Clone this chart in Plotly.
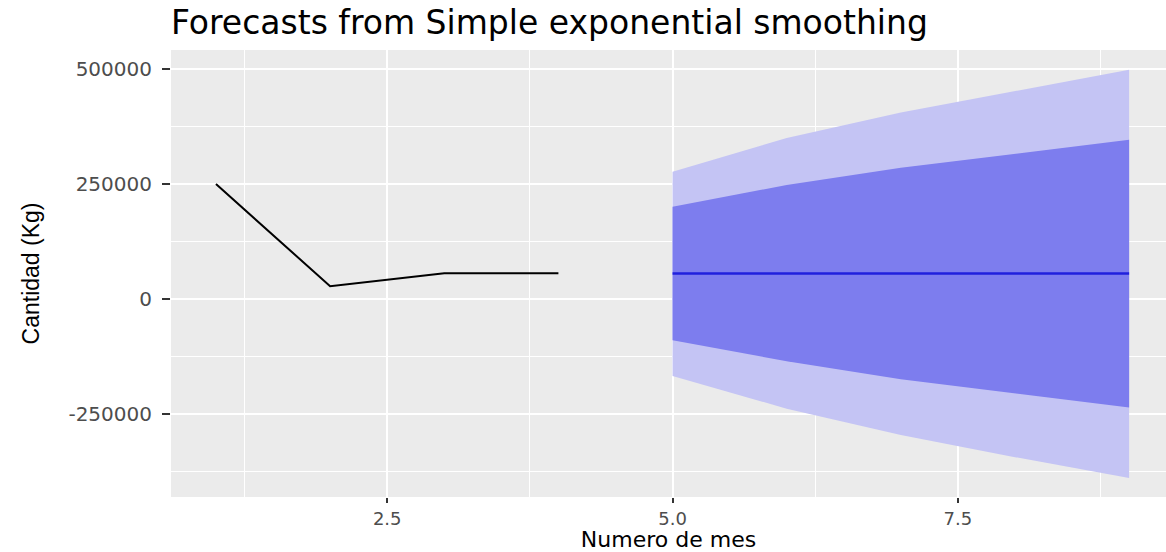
import plotly.graph_objects as go

# Observed series (month number vs quantity in kg)
hist_x = [1, 2, 3, 4]
hist_y = [250000, 28000, 56000, 56000]

# Forecast horizon, point forecast and prediction intervals
fc_x = [5, 6, 7, 8, 9]
fc_mean = [55800, 55800, 55800, 55800, 55800]
lo80 = [-89100, -134800, -174000, -204000, -235000]
hi80 = [200700, 247800, 285000, 315000, 346000]
lo95 = [-166700, -237600, -295000, -343000, -388000]
hi95 = [276700, 350000, 405000, 452000, 498000]

x_ticks = [2.5, 5.0, 7.5]
x_tick_text = ["2.5", "5.0", "7.5"]
y_ticks = [-250000, 0, 250000, 500000]
y_tick_text = ["-250000", "0", "250000", "500000"]

LIGHT = "#c4c4f4"
DARK = "#7d7dee"
LINE_BLUE = "#2020dd"

fig = go.Figure()

# 95% interval band
fig.add_trace(go.Scatter(
    x=fc_x + fc_x[::-1], y=hi95 + lo95[::-1],
    fill="toself", fillcolor=LIGHT, mode="lines",
    line=dict(width=0, color=LIGHT), hoverinfo="skip", showlegend=False))

# 80% interval band
fig.add_trace(go.Scatter(
    x=fc_x + fc_x[::-1], y=hi80 + lo80[::-1],
    fill="toself", fillcolor=DARK, mode="lines",
    line=dict(width=0, color=DARK), hoverinfo="skip", showlegend=False))

# Point forecast
fig.add_trace(go.Scatter(
    x=fc_x, y=fc_mean, mode="lines",
    line=dict(color=LINE_BLUE, width=2.5), showlegend=False))

# Observed data
fig.add_trace(go.Scatter(
    x=hist_x, y=hist_y, mode="lines",
    line=dict(color="black", width=2), showlegend=False))

fig.update_layout(
    width=1166, height=552,
    margin=dict(l=171, r=0, t=50, b=55),
    paper_bgcolor="white",
    plot_bgcolor="#ebebeb",
    showlegend=False,
    title=dict(
        text="Forecasts from Simple exponential smoothing",
        x=0, xanchor="left", xref="paper",
        y=1 - 22 / 552, yanchor="middle", yref="container",
        font=dict(family="DejaVu Sans", size=33, color="black")),
)

fig.update_xaxes(
    range=[0.606, 9.323],
    tickvals=x_ticks, ticktext=x_tick_text,
    ticks="outside", ticklen=5, tickwidth=1.5, tickcolor="#333333",
    tickfont=dict(family="DejaVu Sans", size=18, color="#4d4d4d"),
    showgrid=True, gridcolor="white", gridwidth=2,
    minor=dict(tickvals=[1.25, 3.75, 6.25, 8.75], showgrid=True,
               gridcolor="white", gridwidth=1.2),
    zeroline=False, showline=False,
    title=dict(text="Numero de mes", standoff=9,
               font=dict(family="DejaVu Sans", size=22, color="black")),
)

fig.update_yaxes(
    range=[-429400, 540800],
    tickvals=y_ticks, ticktext=y_tick_text,
    ticks="outside", ticklen=8, tickwidth=1.5, tickcolor="#333333",
    ticklabelstandoff=6,
    tickfont=dict(family="DejaVu Sans", size=20, color="#4d4d4d"),
    showgrid=True, gridcolor="white", gridwidth=2,
    minor=dict(tickvals=[-375000, -125000, 125000, 375000], showgrid=True,
               gridcolor="white", gridwidth=1.2),
    zeroline=False, showline=False,
    title=dict(text="Cantidad (Kg)", standoff=22,
               font=dict(family="Liberation Sans", size=23, color="black")),
)

fig.write_html("out.html")
